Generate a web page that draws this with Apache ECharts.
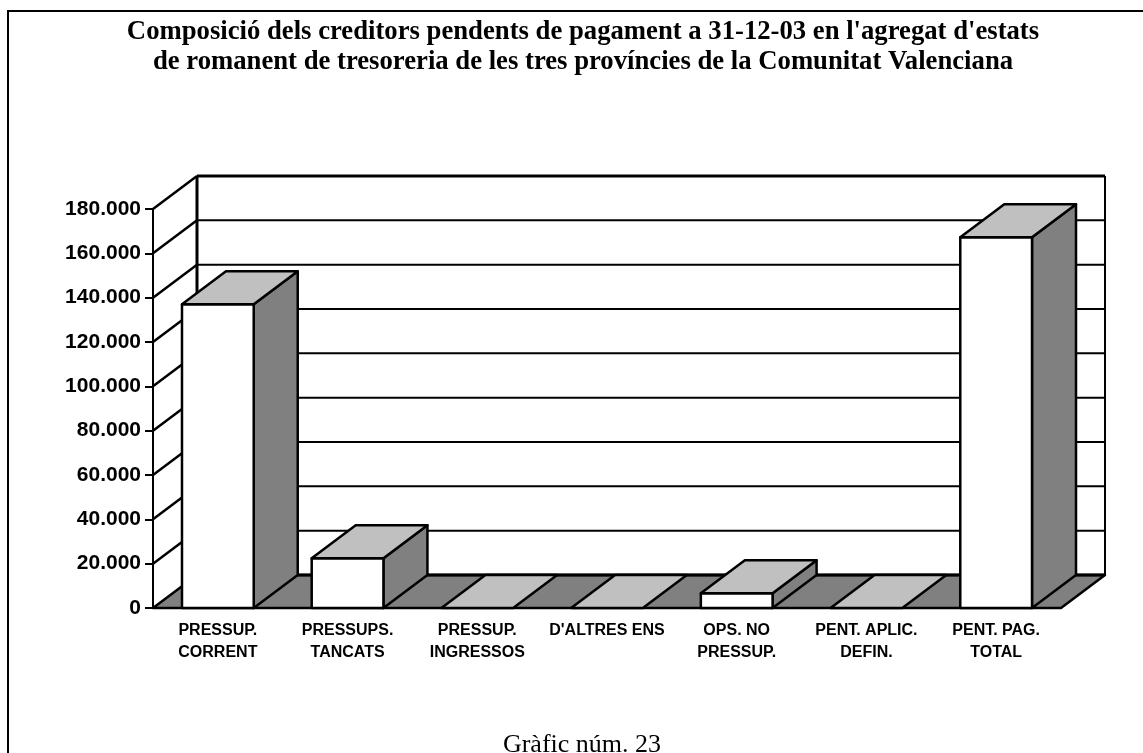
<!DOCTYPE html>
<html>
<head>
<meta charset="utf-8">
<script src="https://cdn.jsdelivr.net/npm/echarts@6/dist/echarts.min.js"></script>
<style>
html, body { margin: 0; padding: 0; background: #fff; }
#chart { width: 1143px; height: 753px; }
</style>
</head>
<body>
<div id="chart"></div>
<script>
const categories = ['PRESSUP.\nCORRENT', 'PRESSUPS.\nTANCATS', 'PRESSUP.\nINGRESSOS', "D'ALTRES ENS", 'OPS. NO\nPRESSUP.', 'PENT. APLIC.\nDEFIN.', 'PENT. PAG.\nTOTAL'];
const values = [137000, 22400, 0, 0, 6600, 0, 167200];
const yMax = 180000;
const yStep = 20000;
const titleText = "Composició dels creditors pendents de pagament a 31-12-03 en l'agregat d'estats\nde romanent de tresoreria de les tres províncies de la Comunitat Valenciana";
const captionText = 'Gràfic núm. 23';

// 3d offset of the back wall, in pixels
const DX = 44;
const DY = -33;
const BAR_WIDTH = 0.553;

function poly(points, fill, width) {
  return {
    type: 'polygon',
    shape: { points: points },
    style: { fill: fill, stroke: '#000', lineWidth: width || 2.5, lineJoin: 'round' }
  };
}
function seg(a, b, width) {
  return {
    type: 'line',
    shape: { x1: a[0], y1: a[1], x2: b[0], y2: b[1] },
    style: { stroke: '#000', lineWidth: width || 2 }
  };
}

// back wall, left wall and floor
function renderWalls(params, api) {
  const left = api.coord([0, 0])[0] - api.size([1, 0])[0] / 2;
  const right = left + api.size([1, 0])[0] * categories.length;
  const children = [];
  for (let v = yStep; v <= yMax; v += yStep) {
    const y = api.coord([0, v])[1];
    children.push(seg([left, y], [left + DX, y + DY], 2.5));
    children.push(seg([left + DX, y + DY], [right + DX, y + DY], v === yMax ? 3 : 2));
  }
  const y0 = api.coord([0, 0])[1];
  const yTop = api.coord([0, yMax])[1];
  children.push(seg([left + DX, y0 + DY], [left + DX, yTop + DY], 3));
  children.push(seg([right + DX, y0 + DY], [right + DX, yTop + DY], 2));
  children.push(poly([[left, y0], [left + DX, y0 + DY], [right + DX, y0 + DY], [right, y0]], '#808080', 2.5));
  children.push(seg([left + DX, y0 + DY], [right + DX, y0 + DY], 3));
  return { type: 'group', children: children };
}

function renderBar(params, api) {
  const top = api.coord([api.value(0), api.value(1)]);
  const base = api.coord([api.value(0), 0]);
  const w = api.size([1, 0])[0] * BAR_WIDTH;
  const x0 = top[0] - w / 2;
  const x1 = top[0] + w / 2;
  const children = [];
  if (top[1] < base[1]) {
    children.push(poly([[x1, top[1]], [x1 + DX, top[1] + DY], [x1 + DX, base[1] + DY], [x1, base[1]]], '#808080'));
    children.push(poly([[x0, top[1]], [x1, top[1]], [x1, base[1]], [x0, base[1]]], '#fff'));
  }
  children.push(poly([[x0, top[1]], [x0 + DX, top[1] + DY], [x1 + DX, top[1] + DY], [x1, top[1]]], '#c0c0c0'));
  return { type: 'group', children: children };
}

const myChart = echarts.init(document.getElementById('chart'), null, { renderer: 'canvas' });
myChart.setOption({
  animation: false,
  backgroundColor: '#fff',
  title: {
    text: titleText,
    left: 578,
    top: 12,
    textAlign: 'center',
    textStyle: { fontFamily: 'Liberation Serif', fontWeight: 'bold', fontSize: 26.7, lineHeight: 30, color: '#000' }
  },
  graphic: [
    {
      // only the top and left edges of the frame fall inside the picture
      type: 'rect',
      shape: { x: 8, y: 11, width: 1200, height: 800 },
      style: { fill: 'none', stroke: '#000', lineWidth: 2 }
    },
    {
      type: 'text',
      x: 582,
      y: 758,
      style: { text: captionText, fontFamily: 'Liberation Serif', fontSize: 26, fill: '#000', textAlign: 'center', textVerticalAlign: 'bottom' }
    }
  ],
  grid: { left: 153, top: 209, width: 908, height: 399 },
  xAxis: {
    type: 'category',
    data: categories,
    axisLine: { lineStyle: { color: '#000', width: 2 } },
    axisTick: { length: 8, lineStyle: { color: '#000', width: 2 } },
    axisLabel: {
      interval: 0,
      margin: 12,
      color: '#000',
      fontFamily: 'Liberation Sans',
      fontWeight: 'bold',
      fontSize: 16,
      lineHeight: 22
    }
  },
  yAxis: {
    type: 'value',
    min: 0,
    max: yMax,
    interval: yStep,
    splitLine: { show: false },
    axisLine: { show: true, lineStyle: { color: '#000', width: 2 } },
    axisTick: { show: true, length: 8, lineStyle: { color: '#000', width: 2 } },
    axisLabel: {
      margin: 12,
      color: '#000',
      fontFamily: 'Liberation Sans',
      fontWeight: 'bold',
      fontSize: 21,
      formatter: function (v) { return String(v).replace(/\B(?=(\d{3})+$)/g, '.'); }
    }
  },
  series: [
    {
      type: 'custom',
      renderItem: renderWalls,
      data: [[0, 0]],
      clip: false,
      silent: true,
      z: 1
    },
    {
      type: 'custom',
      renderItem: renderBar,
      data: values.map(function (v, i) { return [i, v]; }),
      encode: { x: 0, y: 1 },
      clip: false,
      silent: true,
      z: 2
    }
  ]
});
</script>
</body>
</html>
